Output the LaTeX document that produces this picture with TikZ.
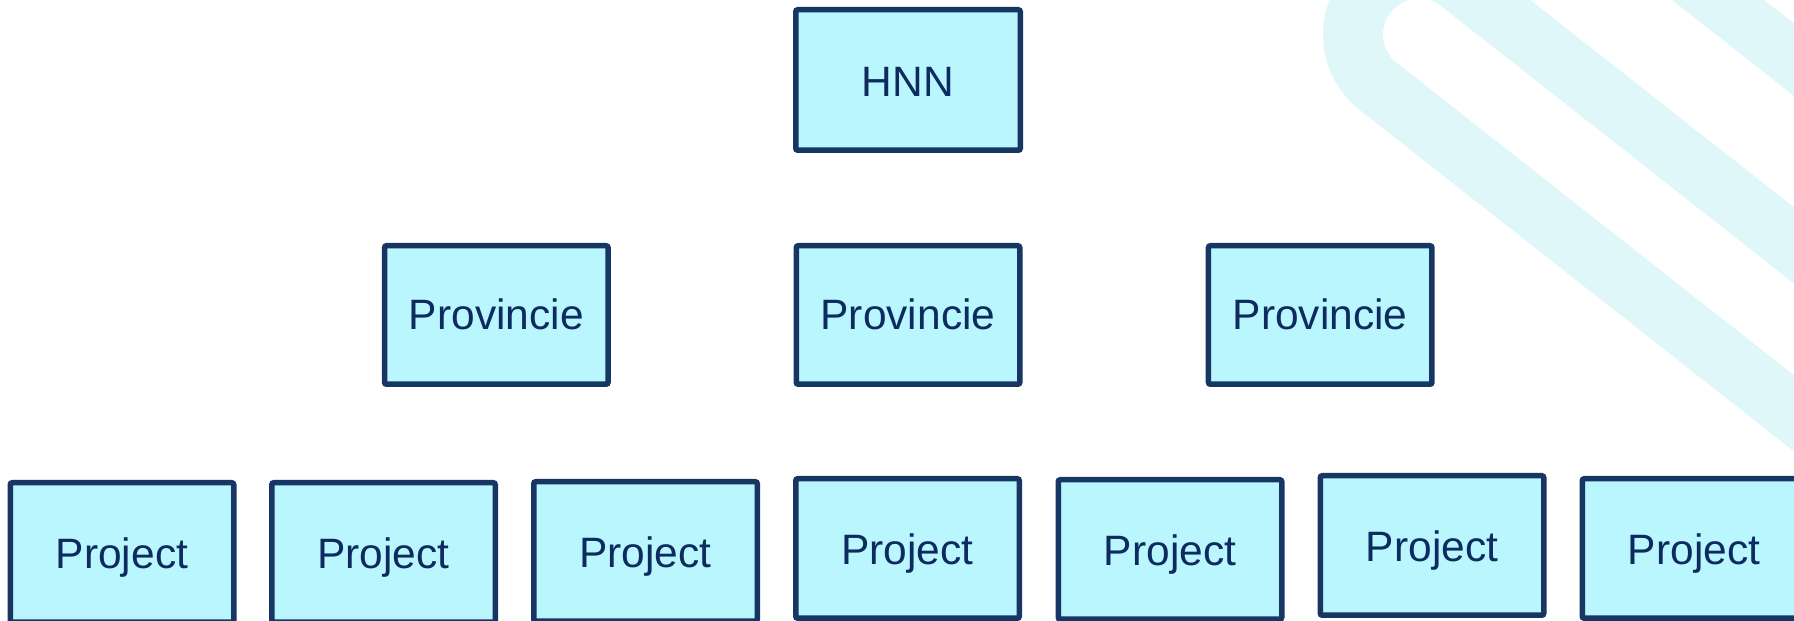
\documentclass[tikz,border=0pt]{standalone}
\usepackage{fontspec}
\setmainfont{Liberation Sans}
\definecolor{boxfill}{HTML}{B9F6FD}
\definecolor{boxline}{HTML}{173663}
\definecolor{boxtext}{HTML}{0D2B5E}
\definecolor{bandcol}{HTML}{E0F7FA}
\begin{document}
\begin{tikzpicture}[x=1pt,y=1pt,
  orgbox/.style={draw=boxline, line width=5.5pt, fill=boxfill, rounded corners=2pt,
    minimum width=223.5pt, minimum height=139.5pt, inner sep=0pt, text=boxtext,
    font=\fontsize{42.5}{50}\selectfont, text height=33pt, text depth=0pt},
  provbox/.style={orgbox, minimum height=138.5pt, text height=30pt},
  topbox/.style={orgbox, minimum width=224.5pt, minimum height=140.5pt},
  bandline/.style={draw=bandcol, line width=60pt}]
\useasboundingbox (0,0) rectangle (1794,621);
\clip (0,0) rectangle (1794,621);
% background bands
\draw[bandline] (1928.4,102.0) -- (1378.2,534.6) arc[start angle=231.8, end angle=51.8, radius=66pt] -- (2010,205.8);
\draw[bandline, line width=57pt] (1639.4,682.8) -- (1953.8,435.6);
% top
\node[topbox] (hnn) at (908,541) {HNN};
% provinces
\node[provbox] (prov1) at (496.3,306) {Provincie};
\node[provbox] (prov2) at (908,306) {Provincie};
\node[provbox] (prov3) at (1320.2,306) {Provincie};
% projects
\node[orgbox] (proj1) at (122,68.5) {Project};
\node[orgbox] (proj2) at (383.5,68.5) {Project};
\node[orgbox] (proj3) at (645.5,69.5) {Project};
\node[orgbox] (proj4) at (907.5,72.5) {Project};
\node[orgbox] (proj5) at (1170,71.5) {Project};
\node[orgbox] (proj6) at (1432,75.5) {Project};
\node[orgbox] (proj7) at (1694,72.5) {Project};
\end{tikzpicture}
\end{document}
